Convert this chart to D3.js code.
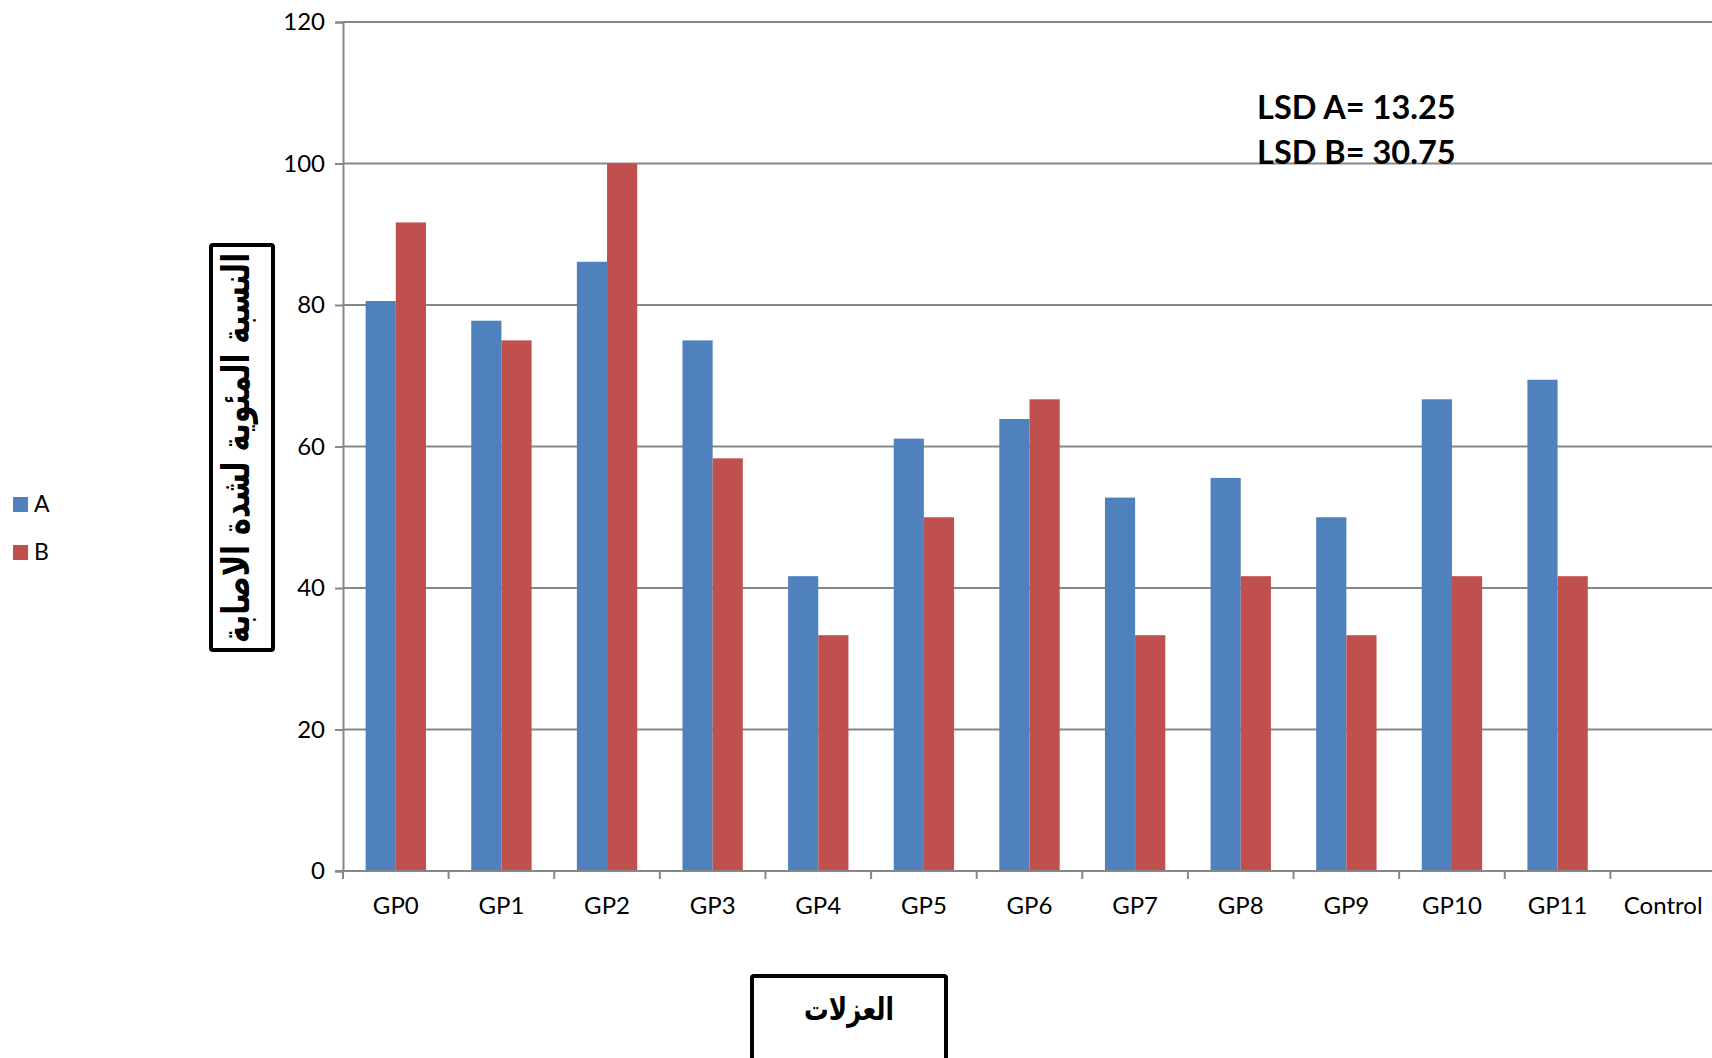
<!DOCTYPE html>
<html>
<head>
<meta charset="utf-8">
<script src="https://cdn.jsdelivr.net/npm/d3@7"></script>
<style>
  html, body { margin: 0; padding: 0; background: #fff; }
  svg { display: block; }
</style>
</head>
<body>
<svg id="chart" width="1712" height="1058"></svg>
<script>
// Isolates and disease severity percentages for two series
const categories = ["GP0","GP1","GP2","GP3","GP4","GP5","GP6","GP7","GP8","GP9","GP10","GP11","Control"];
const seriesA = [80.56, 77.78, 86.11, 75.00, 41.67, 61.11, 63.89, 52.78, 55.56, 50.00, 66.67, 69.44, 0];
const seriesB = [91.67, 75.00, 100.00, 58.33, 33.33, 50.00, 66.67, 33.33, 41.67, 33.33, 41.67, 41.67, 0];
const seriesNames = ["A", "B"];
const yTicks = [0, 20, 40, 60, 80, 100, 120];
const lsdLines = ["LSD A= 13.25", "LSD B= 30.75"];
const yTitle = "النسبة المئوية لشدة الاصابة";
const xTitle = "العزلات";

const colors = { A: "#4F81BD", B: "#C0504D" };
const axisColor = "#878787";
const latin = "Lato, 'Open Sans', sans-serif";
const arabic = "'DejaVu Sans', sans-serif";

const svg = d3.select("#chart");
const plot = { left: 343, right: 1716, top: 22, bottom: 871 };

const x = d3.scaleBand().domain(categories).range([plot.left, plot.right]).paddingInner(0).paddingOuter(0);
const xSub = d3.scaleBand().domain(seriesNames).range([0, x.bandwidth()]).paddingInner(0).paddingOuter(0.75);
const y = d3.scaleLinear().domain([0, 120]).range([plot.bottom, plot.top]);

// horizontal gridlines
svg.append("g")
  .selectAll("line")
  .data(yTicks.filter(t => t > 0))
  .join("line")
  .attr("x1", plot.left).attr("x2", plot.right)
  .attr("y1", d => y(d)).attr("y2", d => y(d))
  .attr("stroke", axisColor).attr("stroke-width", 2);

// bars
const rows = categories.map((c, i) => ({ cat: c, A: seriesA[i], B: seriesB[i] }));
const groups = svg.append("g").selectAll("g")
  .data(rows)
  .join("g")
  .attr("transform", d => `translate(${x(d.cat)},0)`);
groups.selectAll("rect")
  .data(d => seriesNames.map(k => ({ key: k, value: d[k] })))
  .join("rect")
  .attr("x", d => xSub(d.key))
  .attr("width", xSub.bandwidth())
  .attr("y", d => y(d.value))
  .attr("height", d => y(0) - y(d.value))
  .attr("fill", d => colors[d.key]);

// y axis
const yAxis = svg.append("g")
  .attr("transform", `translate(${plot.left},0)`)
  .call(d3.axisLeft(y).tickValues(yTicks).tickSize(8).tickPadding(10));
yAxis.select(".domain").attr("stroke", axisColor).attr("stroke-width", 2);
yAxis.selectAll(".tick line").attr("stroke", axisColor).attr("stroke-width", 2);
yAxis.selectAll(".tick text").attr("font-family", latin).attr("font-size", 24).attr("fill", "#000");

// x axis line and category boundary ticks
svg.append("line")
  .attr("x1", plot.left - 8).attr("x2", plot.right)
  .attr("y1", y(0)).attr("y2", y(0))
  .attr("stroke", axisColor).attr("stroke-width", 2);
svg.append("g").selectAll("line")
  .data(categories)
  .join("line")
  .attr("x1", d => x(d)).attr("x2", d => x(d))
  .attr("y1", y(0)).attr("y2", y(0) + 8)
  .attr("stroke", axisColor).attr("stroke-width", 2);
svg.append("g").selectAll("text")
  .data(categories)
  .join("text")
  .attr("x", d => x(d) + x.bandwidth() / 2)
  .attr("y", 914)
  .attr("text-anchor", "middle")
  .attr("font-family", latin).attr("font-size", 24).attr("fill", "#000")
  .text(d => d);

// LSD annotation
svg.append("g").selectAll("text")
  .data(lsdLines)
  .join("text")
  .attr("x", 1257)
  .attr("y", (d, i) => 119 + i * 45)
  .attr("font-family", latin).attr("font-weight", "bold").attr("font-size", 32.5).attr("fill", "#000")
  .text(d => d);

// legend
const legend = svg.append("g").selectAll("g")
  .data(seriesNames)
  .join("g")
  .attr("transform", (d, i) => `translate(13,${497 + i * 48})`);
legend.append("rect").attr("width", 15).attr("height", 15).attr("fill", d => colors[d]);
legend.append("text")
  .attr("x", 21).attr("y", 15)
  .attr("font-family", latin).attr("font-size", 23).attr("fill", "#000")
  .text(d => d);

// y axis title in a framed box
svg.append("rect")
  .attr("x", 211).attr("y", 245).attr("width", 62).attr("height", 405)
  .attr("fill", "#fff").attr("stroke", "#000").attr("stroke-width", 4).attr("rx", 2);
svg.append("text")
  .attr("transform", `translate(249,${448}) rotate(-90)`)
  .attr("text-anchor", "middle")
  .attr("direction", "rtl")
  .attr("textLength", 390)
  .attr("lengthAdjust", "spacingAndGlyphs")
  .attr("font-family", arabic).attr("font-weight", "bold").attr("font-size", 38).attr("fill", "#000")
  .text(yTitle);

// x axis title in a framed box
svg.append("rect")
  .attr("x", 752).attr("y", 976).attr("width", 194).attr("height", 100)
  .attr("fill", "#fff").attr("stroke", "#000").attr("stroke-width", 4).attr("rx", 2);
svg.append("text")
  .attr("x", 849).attr("y", 1020)
  .attr("text-anchor", "middle")
  .attr("direction", "rtl")
  .attr("textLength", 90)
  .attr("lengthAdjust", "spacingAndGlyphs")
  .attr("font-family", arabic).attr("font-weight", "bold").attr("font-size", 31).attr("fill", "#000")
  .text(xTitle);
</script>
</body>
</html>
